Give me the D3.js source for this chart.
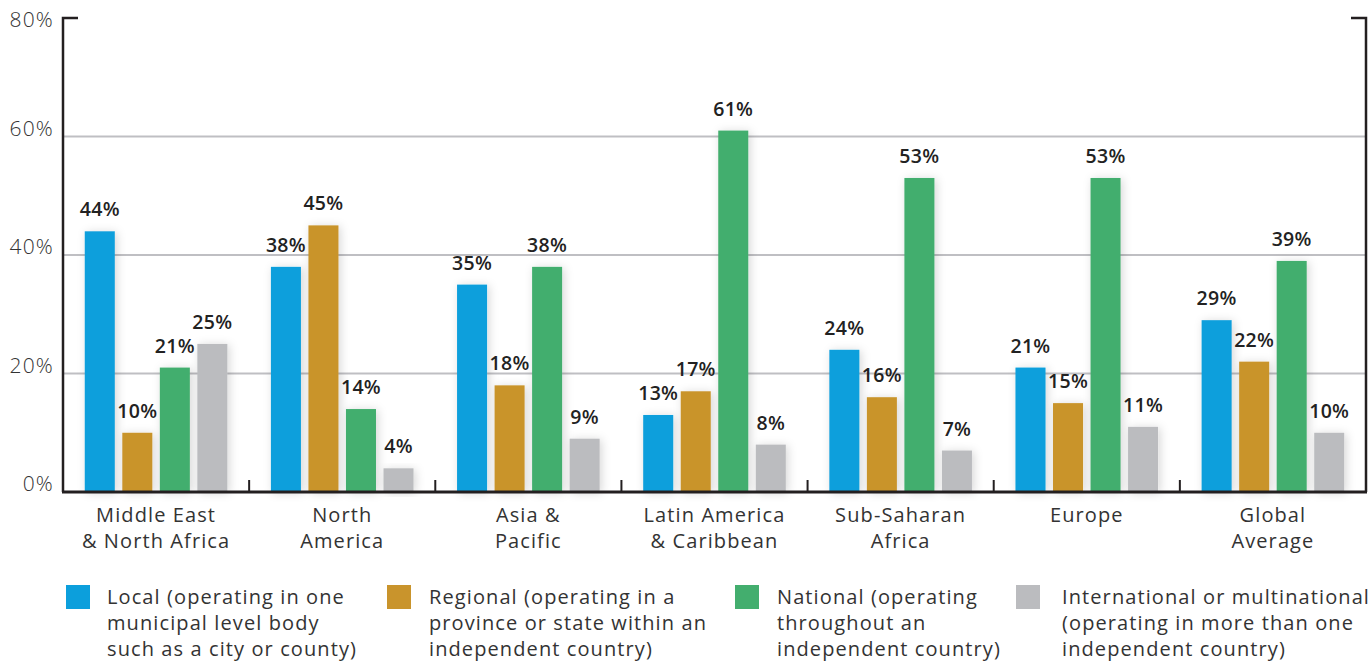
<!DOCTYPE html>
<html>
<head>
<meta charset="utf-8">
<script src="https://cdn.jsdelivr.net/npm/d3@7"></script>
<style>
html,body{margin:0;padding:0;background:#fff;}
svg{display:block;}
text{font-family:"Open Sans","Noto Sans",sans-serif;}
</style>
</head>
<body>
<svg id="chart" width="1372" height="661"></svg>
<script>
const categories = [
  ["Middle East", "& North Africa"],
  ["North", "America"],
  ["Asia &", "Pacific"],
  ["Latin America", "& Caribbean"],
  ["Sub-Saharan", "Africa"],
  ["Europe"],
  ["Global", "Average"]
];
const seriesNames = ["Local", "Regional", "National", "International"];
const localValues = [44, 38, 35, 13, 24, 21, 29];
const regionalValues = [10, 45, 18, 17, 16, 15, 22];
const nationalValues = [21, 14, 38, 61, 53, 53, 39];
const internationalValues = [25, 4, 9, 8, 7, 11, 10];
const yTicks = [0, 20, 40, 60, 80];
const legendLabels = [
  ["Local (operating in one", "municipal level body", "such as a city or county)"],
  ["Regional (operating in a", "province or state within an", "independent country)"],
  ["National (operating", "throughout an", "independent country)"],
  ["International or multinational", "(operating in more than one", "independent country)"]
];
const colors = ["#0c9fdc", "#c9942c", "#43ae6e", "#bbbcbf"];

const allValues = [localValues, regionalValues, nationalValues, internationalValues];

const svg = d3.select("#chart");
const mLeft = 63, mRight = 1366, mTop = 18, mBottom = 492;

const defs = svg.append("defs");
const f = defs.append("filter").attr("id","shadow").attr("x","-60%").attr("y","-20%").attr("width","220%").attr("height","140%");
f.append("feDropShadow").attr("dx",2).attr("dy",1).attr("stdDeviation",5).attr("flood-color","#000").attr("flood-opacity",0.16);

const x0 = d3.scaleBand().domain(d3.range(categories.length)).range([mLeft, mRight]).padding(0);
const x1 = d3.scaleBand().domain(d3.range(seriesNames.length)).range([0, x0.bandwidth()]).paddingInner(0.2).paddingOuter(0.58);
const y = d3.scaleLinear().domain([0, 80]).range([mBottom, mTop]);

// gridlines
svg.append("g").selectAll("line").data(yTicks.filter(t => t > 0 && t < 80)).join("line")
  .attr("x1", mLeft).attr("x2", mRight)
  .attr("y1", d => y(d)).attr("y2", d => y(d))
  .attr("stroke", "#bfbfc3").attr("stroke-width", 2);

// y labels
svg.append("g").selectAll("text").data(yTicks).join("text")
  .attr("x", 54).attr("y", d => Math.max(y(d) - 1, 27))
  .attr("text-anchor", "end")
  .attr("font-size", 21).attr("fill", "#333").attr("font-weight", 300)
  .attr("letter-spacing", 1.2)
  .text(d => d + "%");

// bars
const groups = svg.append("g").selectAll("g").data(categories).join("g")
  .attr("transform", (d, i) => `translate(${x0(i)},0)`);

groups.each(function(c, i) {
  const g = d3.select(this);
  const vals = allValues.map(s => s[i]);
  g.selectAll("rect").data(vals).join("rect")
    .attr("x", (d, j) => x1(j)).attr("width", x1.bandwidth())
    .attr("y", d => y(d)).attr("height", d => mBottom - y(d))
    .attr("fill", (d, j) => colors[j])
    .attr("filter", "url(#shadow)");
  g.selectAll("text.val").data(vals).join("text").attr("class", "val")
    .attr("x", (d, j) => x1(j) + x1.bandwidth() / 2)
    .attr("y", d => y(d) - 15)
    .attr("text-anchor", "middle")
    .attr("font-size", 19.5).attr("font-weight", 600).attr("fill", "#222")
    .attr("letter-spacing", 0.3)
    .text(d => d + "%");
  const t = g.append("text").attr("text-anchor", "middle").attr("font-size", 20).attr("fill", "#333")
    .attr("letter-spacing", 1.1);
  c.forEach((line, k) => {
    t.append("tspan").attr("x", x0.bandwidth() / 2).attr("y", 522 + k * 26).text(line);
  });
});

// axes lines
const ax = svg.append("g").attr("stroke", "#231f20").attr("fill", "none");
ax.append("path").attr("d", `M${mLeft + 15},${mTop} H${mLeft} V${mBottom}`).attr("stroke-width", 2.5);
ax.append("path").attr("d", `M${mRight - 15},${mTop} H${mRight} V${mBottom}`).attr("stroke-width", 2.5);
ax.append("line").attr("x1", mLeft - 1).attr("x2", mRight + 1).attr("y1", mBottom).attr("y2", mBottom).attr("stroke-width", 3);
ax.selectAll("line.div").data(d3.range(1, categories.length)).join("line").attr("class", "div")
  .attr("x1", d => x0(d)).attr("x2", d => x0(d))
  .attr("y1", mBottom - 12).attr("y2", mBottom).attr("stroke-width", 2);

// legend
const legendX = [66, 387, 735, 1016];
const textX = [107, 429, 777, 1062];
const lg = svg.append("g");
legendLabels.forEach((lines, i) => {
  lg.append("rect").attr("x", legendX[i]).attr("y", 585).attr("width", 24).attr("height", 24).attr("fill", colors[i]);
  const t = lg.append("text").attr("font-size", 20).attr("fill", "#333").attr("letter-spacing", 1.1);
  lines.forEach((line, k) => {
    t.append("tspan").attr("x", textX[i]).attr("y", 604 + k * 26).text(line);
  });
});
</script>
</body>
</html>
